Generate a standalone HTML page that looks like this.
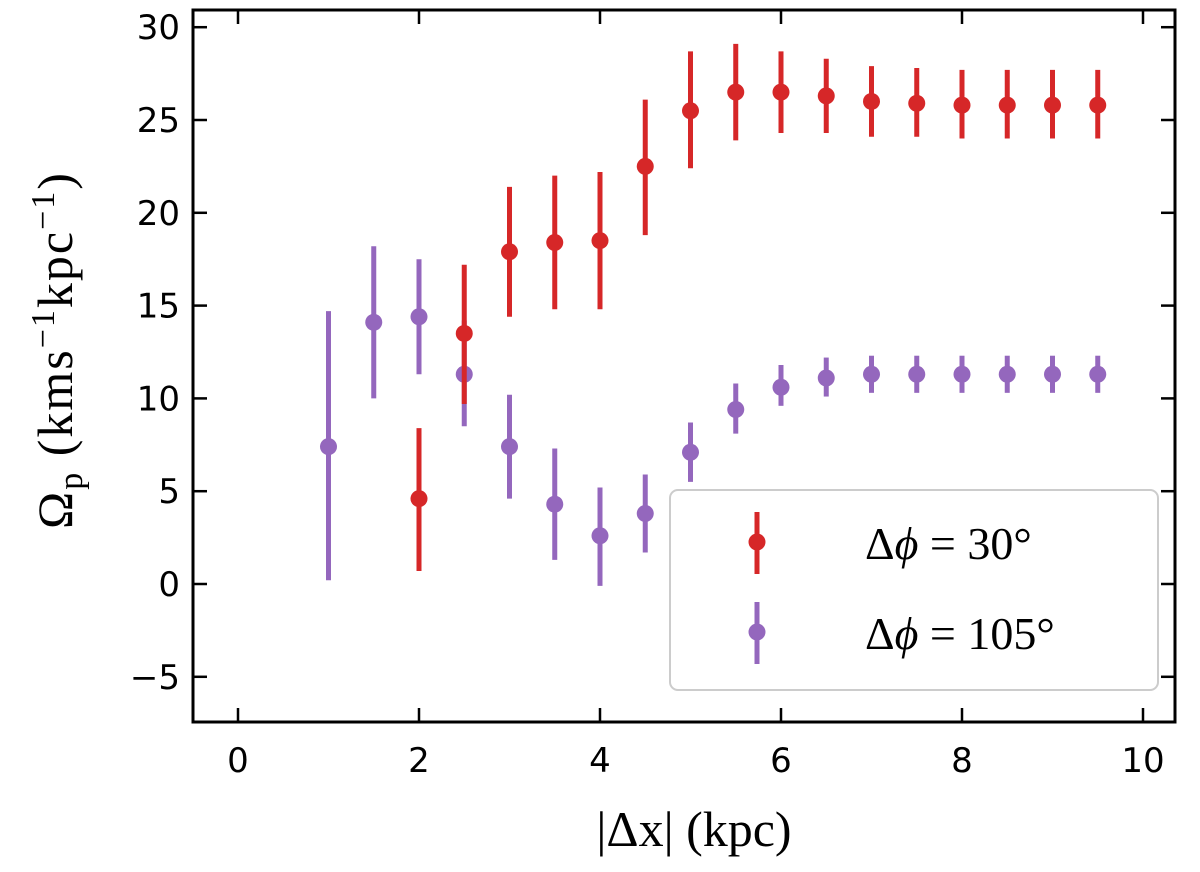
<!DOCTYPE html>
<html><head><meta charset="utf-8"><style>
body{margin:0;background:#fff;width:1200px;height:867px;overflow:hidden}
svg text{font-family:"DejaVu Sans","Liberation Sans",sans-serif}
</style></head><body>
<svg id="chart" width="1200" height="867" xmlns="http://www.w3.org/2000/svg">
<g id="marks"></g>
<g id="axes"></g>
<g id="legend">
<rect x="670" y="490" width="488" height="200" rx="8" fill="#fff" fill-opacity="0.8" stroke="#ccc" stroke-width="2"/>
<line x1="757" y1="512" x2="757" y2="574" stroke="#d62728" stroke-width="5"/>
<circle cx="757" cy="542" r="8.5" fill="#d62728"/>
<text x="865" y="559" font-size="46" style="font-family:'Liberation Serif',serif">Δ<tspan font-style="italic">ϕ</tspan> = 30°</text>
<line x1="757" y1="602" x2="757" y2="664" stroke="#9467bd" stroke-width="5"/>
<circle cx="757" cy="632" r="8.5" fill="#9467bd"/>
<text x="865" y="649" font-size="46" style="font-family:'Liberation Serif',serif">Δ<tspan font-style="italic">ϕ</tspan> = 105°</text>
</g>
<text transform="translate(72,350) rotate(-90)" text-anchor="middle" font-size="50" letter-spacing="2" style="font-family:'Liberation Serif',serif">Ω<tspan font-size="34" dy="10">p</tspan><tspan dy="-10"> (kms</tspan><tspan font-size="34" dy="-18">−1</tspan><tspan dy="18">kpc</tspan><tspan font-size="34" dy="-18">−1</tspan><tspan dy="18">)</tspan></text>
<text x="694" y="846" text-anchor="middle" font-size="50" style="font-family:'Liberation Serif',serif">|Δx| (kpc)</text>
</svg>
<script>
const xs = [1,1.5,2,2.5,3,3.5,4,4.5,5,5.5,6,6.5,7,7.5,8,8.5,9,9.5];
const redX = [2,2.5,3,3.5,4,4.5,5,5.5,6,6.5,7,7.5,8,8.5,9,9.5];
const redY = [4.6,13.5,17.9,18.4,18.5,22.5,25.5,26.5,26.5,26.3,26.0,25.9,25.8,25.8,25.8,25.8];
const redLo = [0.7,9.7,14.4,14.8,14.8,18.8,22.4,23.9,24.3,24.3,24.1,24.1,24.0,24.0,24.0,24.0];
const redHi = [8.4,17.2,21.4,22.0,22.2,26.1,28.7,29.1,28.7,28.3,27.9,27.8,27.7,27.7,27.7,27.7];
const purY = [7.4,14.1,14.4,11.3,7.4,4.3,2.6,3.8,7.1,9.4,10.6,11.1,11.3,11.3,11.3,11.3,11.3,11.3];
const purLo = [0.2,10.0,11.3,8.5,4.6,1.3,-0.1,1.7,5.5,8.1,9.6,10.1,10.3,10.3,10.3,10.3,10.3,10.3];
const purHi = [14.7,18.2,17.5,14.2,10.2,7.3,5.2,5.9,8.7,10.8,11.8,12.2,12.3,12.3,12.3,12.3,12.3,12.3];
const xTicks = [0,2,4,6,8,10];
const yTicks = [-5,0,5,10,15,20,25,30];

const L=193,R=1175,T=10,B=722;
const sx = v => 238 + v*90.5;
const sy = v => 584 - v*18.56;
const NS="http://www.w3.org/2000/svg";
function mk(tag, attrs, parent){const e=document.createElementNS(NS,tag);for(const k in attrs)e.setAttribute(k,attrs[k]);parent.appendChild(e);return e;}
const marks=document.getElementById('marks');
function series(X,Y,Lo,Hi,color,name){
  for(let i=0;i<X.length;i++){
    const l=mk('line',{x1:sx(X[i]),x2:sx(X[i]),y1:sy(Lo[i]),y2:sy(Hi[i]),stroke:color,'stroke-width':5},marks);
    
    
    const c=mk('circle',{cx:sx(X[i]),cy:sy(Y[i]),r:8.5,fill:color},marks);
    
    
  }
}
series(xs,purY,purLo,purHi,'#9467bd','purple');
series(redX,redY,redLo,redHi,'#d62728','red');
const ax=document.getElementById('axes');
const fr=mk('rect',{x:L,y:T,width:R-L,height:B-T,fill:'none',stroke:'#000','stroke-width':3},ax);


xTicks.forEach(v=>{
  const x=sx(v);
  mk('line',{x1:x,x2:x,y1:B,y2:B-14,stroke:'#000','stroke-width':2.5},ax);
  mk('line',{x1:x,x2:x,y1:T,y2:T+14,stroke:'#000','stroke-width':2.5},ax);
  const t=mk('text',{x:x,y:B+50,'text-anchor':'middle','font-size':34},ax);
  t.textContent=v;
  
  
});
yTicks.forEach(v=>{
  const y=sy(v);
  mk('line',{x1:L,x2:L+14,y1:y,y2:y,stroke:'#000','stroke-width':2.5},ax);
  mk('line',{x1:R,x2:R-14,y1:y,y2:y,stroke:'#000','stroke-width':2.5},ax);
  const t=mk('text',{x:L-13,y:y+12,'text-anchor':'end','font-size':34},ax);
  t.textContent=v<0?'−'+(-v):v;
  
  
});
</script>
</body></html>
